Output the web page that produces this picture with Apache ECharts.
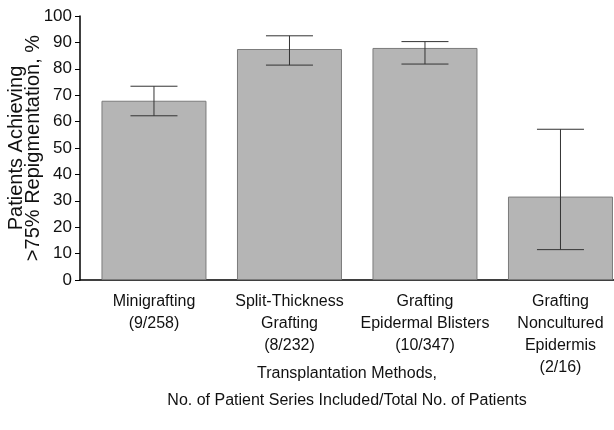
<!DOCTYPE html>
<html>
<head>
<meta charset="utf-8">
<script src="https://cdn.jsdelivr.net/npm/echarts@6/dist/echarts.min.js"></script>
<style>
  html, body { margin: 0; padding: 0; background: #fff; }
  #main { width: 614px; height: 430px; }
</style>
</head>
<body>
<div id="main"></div>
<script>
// categories (x axis labels)
var categories = [
    'Minigrafting\n(9/258)',
    'Split-Thickness\nGrafting\n(8/232)',
    'Grafting\nEpidermal Blisters\n(10/347)',
    'Grafting\nNoncultured\nEpidermis\n(2/16)'
];
// percentage of patients achieving >75% repigmentation
var values = [67.9, 87.5, 87.9, 31.6];
// error bar bounds
var lower = [62.2, 81.4, 81.8, 11.5];
var upper = [73.4, 92.5, 90.3, 57.1];
var yTicks = [0, 10, 20, 30, 40, 50, 60, 70, 80, 90, 100];

var font = '"Liberation Sans", Arial, sans-serif';

var chart = echarts.init(document.getElementById('main'));

var barData = values.map(function (v, i) { return [i, v]; });
var errData = lower.map(function (v, i) { return [i, v, upper[i]]; });

var option = {
    animation: false,
    grid: {
        left: 80,
        right: 0,
        top: 16,
        bottom: 150,
        containLabel: false,
        outerBoundsMode: 'none'
    },
    xAxis: {
        type: 'value',
        min: -0.546,
        max: 3.395,
        splitLine: { show: false },
        axisLine: { show: true, lineStyle: { color: '#000', width: 1.5 } },
        axisTick: { show: false },
        axisLabel: {
            customValues: [0, 1, 2, 3],
            formatter: function (v) { return categories[Math.round(v)]; },
            color: '#111',
            fontFamily: font,
            fontSize: 16,
            lineHeight: 22,
            margin: 11,
            align: 'center',
            verticalAlign: 'top'
        },
        name: 'Transplantation Methods,\nNo. of Patient Series Included/Total No. of Patients',
        nameLocation: 'middle',
        nameMoveOverlap: false,
        nameGap: 80,
        nameTextStyle: {
            color: '#111',
            fontFamily: font,
            fontSize: 16,
            lineHeight: 27,
            verticalAlign: 'top'
        }
    },
    yAxis: {
        type: 'value',
        min: 0,
        max: 100,
        interval: 10,
        splitLine: { show: false },
        axisLine: { show: true, onZero: false, lineStyle: { color: '#000', width: 1.5 } },
        axisTick: { show: true, length: 5, lineStyle: { color: '#000' } },
        axisLabel: {
            color: '#111',
            fontFamily: font,
            fontSize: 17,
            margin: 8,
            formatter: function (v) { return yTicks.indexOf(v) >= 0 ? v : ''; }
        },
        name: 'Patients Achieving\n>75% Repigmentation, %',
        nameLocation: 'middle',
        nameMoveOverlap: false,
        nameRotate: 90,
        nameGap: 38,
        nameTextStyle: {
            color: '#111',
            fontFamily: font,
            fontSize: 20,
            lineHeight: 17
        }
    },
    series: [
        {
            type: 'bar',
            data: barData,
            barWidth: 105,
            itemStyle: {
                color: '#b5b5b5',
                borderColor: '#7c7c7c',
                borderWidth: 1
            }
        },
        {
            type: 'custom',
            data: errData,
            z: 10,
            renderItem: function (params, api) {
                var x = api.value(0);
                var lo = api.coord([x, api.value(1)]);
                var hi = api.coord([x, api.value(2)]);
                var half = 23.5;
                var style = { stroke: '#333', lineWidth: 1, fill: null };
                return {
                    type: 'group',
                    children: [
                        { type: 'line', shape: { x1: lo[0], y1: lo[1], x2: hi[0], y2: hi[1] }, style: style },
                        { type: 'line', shape: { x1: lo[0] - half, y1: lo[1], x2: lo[0] + half, y2: lo[1] }, style: style },
                        { type: 'line', shape: { x1: hi[0] - half, y1: hi[1], x2: hi[0] + half, y2: hi[1] }, style: style }
                    ]
                };
            }
        }
    ]
};

chart.setOption(option);
</script>
</body>
</html>
